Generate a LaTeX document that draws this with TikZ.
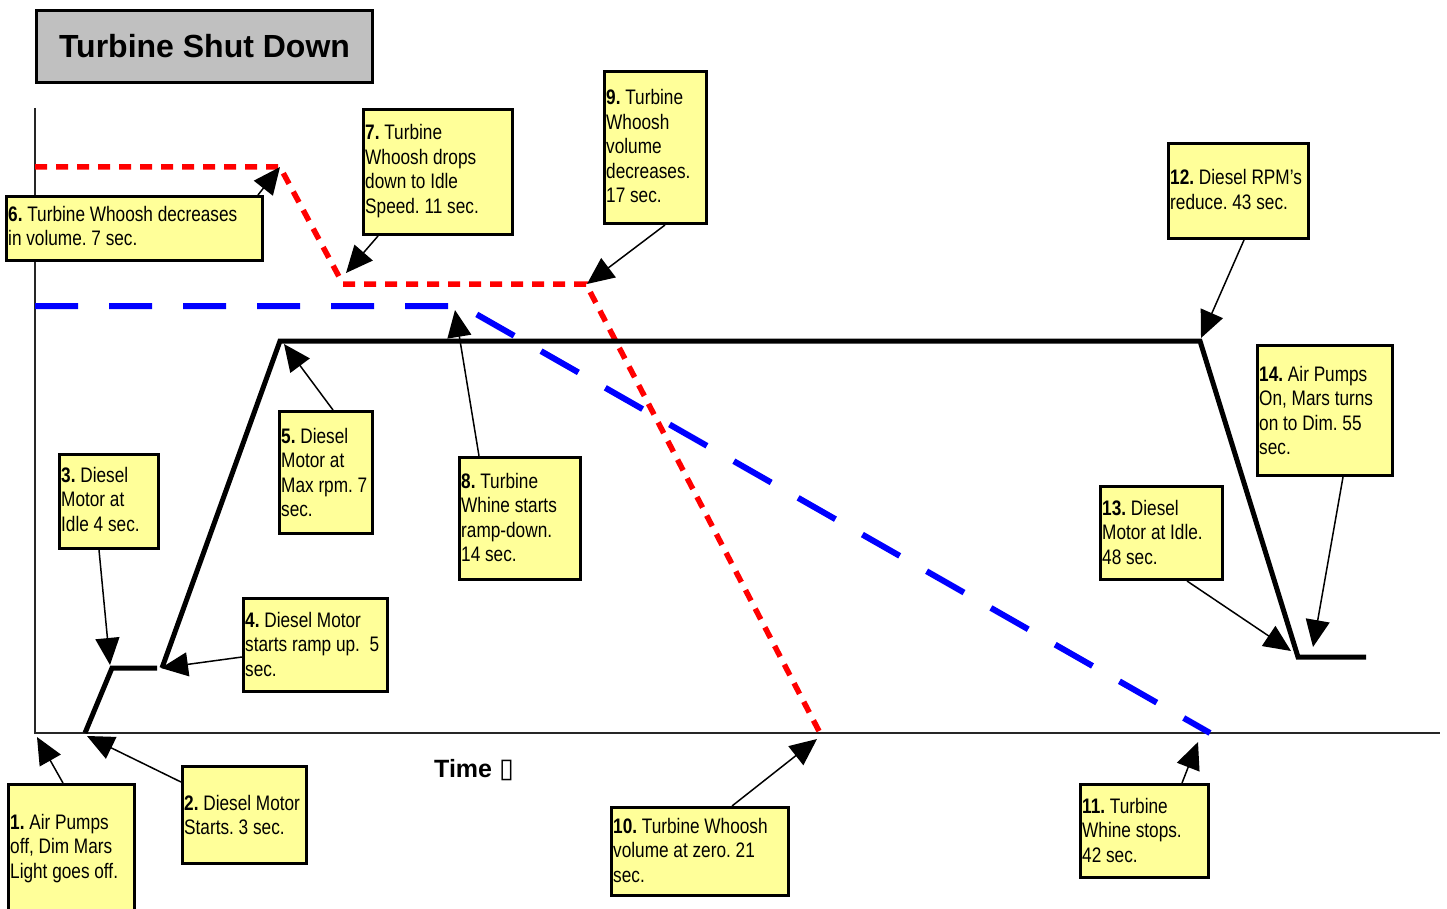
\documentclass[tikz,border=0pt]{standalone}
\usepackage{fontspec}
\setmainfont{Liberation Sans}
\newfontfamily\narrowfont{Liberation Sans}[FakeStretch=0.82]
\newfontfamily\symfont{DejaVu Sans}
\usetikzlibrary{arrows.meta}
\definecolor{boxyellow}{RGB}{255,255,153}
\definecolor{titlegray}{RGB}{192,192,192}
\definecolor{redline}{RGB}{255,0,0}
\definecolor{blueline}{RGB}{0,0,255}
\frenchspacing
\begin{document}
\begin{tikzpicture}[x=1pt,y=-1pt,
  note/.style={draw=black, line width=3pt, fill=boxyellow, inner sep=0pt, anchor=north west},
  notetext/.style={anchor=base west, inner sep=0pt, align=left, font=\narrowfont\fontsize{21}{24.5}\selectfont},
  callout/.style={line width=1.5pt, -{Triangle[length=27pt,width=24pt]}},
  axisline/.style={line width=2.5pt, black!85},
  dieselline/.style={line width=5pt, black, line join=miter},
  whooshline/.style={line width=5.5pt, redline, dash pattern=on 12pt off 9pt},
  whineline/.style={line width=6pt, blueline, dash pattern=on 43pt off 31pt},
  titlebox/.style={draw=black, line width=3pt, fill=titlegray, anchor=north west, font=\bfseries\fontsize{32}{38}\selectfont}
]
\useasboundingbox (0,0) rectangle (1447,909);

% title
\node[titlebox, minimum width=336pt, minimum height=72pt] (title) at (35,9) {Turbine Shut Down};

% axes
\coordinate (ytop) at (35,108);
\coordinate (origin) at (35,733);
\coordinate (xend) at (1440,733);
\draw[axisline] (ytop) -- (origin) -- (xend);

% red whoosh line
\coordinate (r0) at (35,167);
\coordinate (r1) at (280,167);
\coordinate (r2) at (343,284);
\coordinate (r3) at (586,284);
\coordinate (r4) at (820,733);
\draw[whooshline] (r0) -- (r1) -- (r2) -- (r3) -- (r4);

% blue whine line
\coordinate (w0) at (35,306);
\coordinate (w1) at (462,306);
\coordinate (w2) at (1210,733);
\draw[whineline] (w0) -- (w1) -- (w2);

% black diesel line
\coordinate (k0) at (85,733);
\coordinate (k1) at (112,668);
\coordinate (k2) at (157,668);
\coordinate (k3) at (162,668);
\coordinate (k4) at (280,341);
\coordinate (k5) at (1200,341);
\coordinate (k6) at (1298,657);
\coordinate (k7) at (1366,657);
\draw[dieselline] (k0) -- (k1) -- (k2);
\draw[dieselline] (k3) -- (k4) -- (k5) -- (k6) -- (k7);

% time label
\node[anchor=base west, inner sep=0pt, font=\bfseries\fontsize{25}{30}\selectfont] (timelbl) at (434,777) {Time {\symfont\mdseries\fontsize{27}{30}\selectfont ▯}};

% boxes
\node[note, minimum width=126pt, minimum height=132pt] (b1) at (7,783) {};
\node[note, minimum width=124pt, minimum height=97pt] (b2) at (181,765) {};
\node[note, minimum width=99pt, minimum height=94pt] (b3) at (58,453) {};
\node[note, minimum width=144pt, minimum height=93pt] (b4) at (242,597) {};
\node[note, minimum width=93pt, minimum height=122pt] (b5) at (278,410) {};
\node[note, minimum width=256pt, minimum height=64pt] (b6) at (5,195) {};
\node[note, minimum width=149pt, minimum height=125pt] (b7) at (362,108) {};
\node[note, minimum width=121pt, minimum height=122pt] (b8) at (458,456) {};
\node[note, minimum width=102pt, minimum height=152pt] (b9) at (603,70) {};
\node[note, minimum width=177pt, minimum height=88pt] (b10) at (610,806) {};
\node[note, minimum width=128pt, minimum height=93pt] (b11) at (1079,783) {};
\node[note, minimum width=140pt, minimum height=95pt] (b12) at (1167,142) {};
\node[note, minimum width=122pt, minimum height=93pt] (b13) at (1099,485) {};
\node[note, minimum width=135pt, minimum height=130pt] (b14) at (1256,344) {};

% texts (anchor = baseline of last line)
\node[notetext] (t1) at ([xshift=3pt,yshift=-95pt]b1.north west) {\textbf{1.} Air Pumps\\off, Dim Mars\\Light goes off.};
\node[notetext] (t2) at ([xshift=3pt,yshift=-69.5pt]b2.north west) {\textbf{2.} Diesel Motor\\Starts. 3 sec.};
\node[notetext] (t3) at ([xshift=3pt,yshift=-78pt]b3.north west) {\textbf{3.} Diesel\\Motor at\\Idle 4 sec.};
\node[notetext] (t4) at ([xshift=3pt,yshift=-79pt]b4.north west) {\textbf{4.} Diesel Motor\\starts ramp up.\ \ 5\\sec.};
\node[notetext] (t5) at ([xshift=3pt,yshift=-106.5pt]b5.north west) {\textbf{5.} Diesel\\Motor at\\Max rpm. 7\\sec.};
\node[notetext] (t6) at ([xshift=3pt,yshift=-50.5pt]b6.north west) {\textbf{6.} Turbine Whoosh decreases\\in volume. 7 sec.};
\node[notetext] (t7) at ([xshift=3pt,yshift=-105.5pt]b7.north west) {\textbf{7.} Turbine\\Whoosh drops\\down to Idle\\Speed. 11 sec.};
\node[notetext] (t8) at ([xshift=3pt,yshift=-105.5pt]b8.north west) {\textbf{8.} Turbine\\Whine starts\\ramp-down.\\14 sec.};
\node[notetext] (t9) at ([xshift=3pt,yshift=-133pt]b9.north west) {\textbf{9.} Turbine\\Whoosh\\volume\\decreases.\\17 sec.};
\node[notetext] (t10) at ([xshift=3pt,yshift=-76pt]b10.north west) {\textbf{10.} Turbine Whoosh\\volume at zero. 21\\sec.};
\node[notetext] (t11) at ([xshift=3pt,yshift=-79pt]b11.north west) {\textbf{11.} Turbine\\Whine stops.\\42 sec.};
\node[notetext] (t12) at ([xshift=3pt,yshift=-67.5pt]b12.north west) {\textbf{12.} Diesel RPM’s\\reduce. 43 sec.};
\node[notetext] (t13) at ([xshift=3pt,yshift=-79pt]b13.north west) {\textbf{13.} Diesel\\Motor at Idle.\\48 sec.};
\node[notetext] (t14) at ([xshift=3pt,yshift=-110.5pt]b14.north west) {\textbf{14.} Air Pumps\\On, Mars turns\\on to Dim. 55\\sec.};

% arrow tips
\coordinate (p1) at (37,737);
\coordinate (p2) at (87,736);
\coordinate (p3) at (110,665);
\coordinate (p4) at (161,668);
\coordinate (p5) at (284,344);
\coordinate (p6) at (280,167);
\coordinate (p7) at (346,273);
\coordinate (p8) at (455,310);
\coordinate (p9) at (587,284);
\coordinate (p10) at (817,739);
\coordinate (p11) at (1198,742);
\coordinate (p12) at (1201,338);
\coordinate (p13) at (1291,651);
\coordinate (p14) at (1313,647);

% callouts
\draw[callout] ([xshift=56pt]b1.north west) -- (p1);
\draw[callout] ([yshift=-17pt]b2.north west) -- (p2);
\draw[callout] ([xshift=41pt]b3.south west) -- (p3);
\draw[callout] ([yshift=-60pt]b4.north west) -- (p4);
\draw[callout] ([xshift=55pt]b5.north west) -- (p5);
\draw[callout] ([xshift=253pt]b6.north west) -- (p6);
\draw[callout] ([xshift=16pt]b7.south west) -- (p7);
\draw[callout] ([xshift=21pt]b8.north west) -- (p8);
\draw[callout] ([xshift=62pt]b9.south west) -- (p9);
\draw[callout] ([xshift=122pt]b10.north west) -- (p10);
\draw[callout] ([xshift=103pt]b11.north west) -- (p11);
\draw[callout] ([xshift=77pt]b12.south west) -- (p12);
\draw[callout] ([xshift=88pt]b13.south west) -- (p13);
\draw[callout] ([xshift=87pt]b14.south west) -- (p14);
\end{tikzpicture}
\end{document}
